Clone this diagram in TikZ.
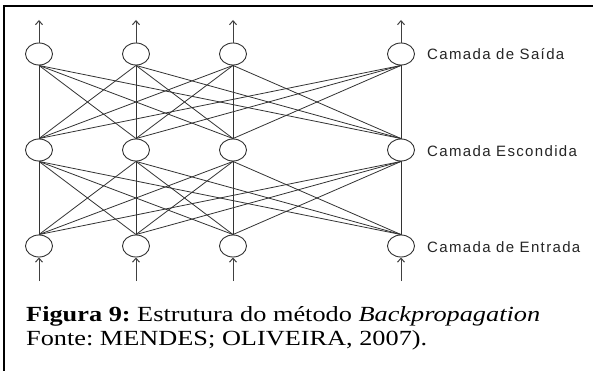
\documentclass[tikz,border=0pt]{standalone}
\usepackage{fontspec}
\setmainfont{Liberation Serif}
\newfontfamily\lblfont[LetterSpace=9]{Liberation Sans}
\usetikzlibrary{arrows.meta,shapes.geometric}
\frenchspacing
\begin{document}
\begin{tikzpicture}[x=1pt,y=-1pt,
  neuron/.style={draw=black!80, line width=0.9pt, ellipse, minimum width=27pt, minimum height=22pt, inner sep=0pt},
  conn/.style={draw=black!80, line width=0.8pt},
  io/.style={draw=black!75, line width=1pt, -{Straight Barb[length=4pt,width=7pt]}},
  layerlbl/.style={anchor=west, font=\lblfont\fontsize{15}{17}\selectfont, text=black!85, inner sep=0pt},
  captxt/.style={anchor=base west, inner sep=0pt, font=\fontsize{26.3}{30}\selectfont}]
\useasboundingbox (0,0) rectangle (593,371);
\fill[white] (0,0) rectangle (593,371);
\draw[line width=2pt] (4.3,371) -- (4.3,6) -- (593,6);
% nodes
\foreach \c/\x in {1/39,2/136,3/233,4/401}{
  \node[neuron] (o\c) at (\x,54) {};
  \node[neuron] (h\c) at (\x,150) {};
  \node[neuron] (i\c) at (\x,246) {};
  \coordinate (t\c) at (\x,20);
  \coordinate (b\c) at (\x,281);
}
\foreach \a in {1,2,3,4}{
  \foreach \b in {1,2,3,4}{
    \draw[conn] (o\a.south) -- (h\b.north);
    \draw[conn] (h\a.south) -- (i\b.north);
  }
  \draw[io] (o\a.north) -- (t\a);
  \draw[io] (b\a) -- (i\a.south);
}
\node[layerlbl] (l1) at (427,54) {Camada de Saída};
\node[layerlbl] (l2) at (427,151) {Camada Escondida};
\node[layerlbl] (l3) at (427,247) {Camada de Entrada};
\node[captxt] (c1) at (26,321.5) {\scalebox{1}[0.82]{\textbf{Figura 9:} Estrutura do método \textit{Backpropagation}}};
\node[captxt] (c2) at (26,345) {\scalebox{1}[0.82]{Fonte: MENDES; OLIVEIRA, 2007).}};
\end{tikzpicture}
\end{document}
